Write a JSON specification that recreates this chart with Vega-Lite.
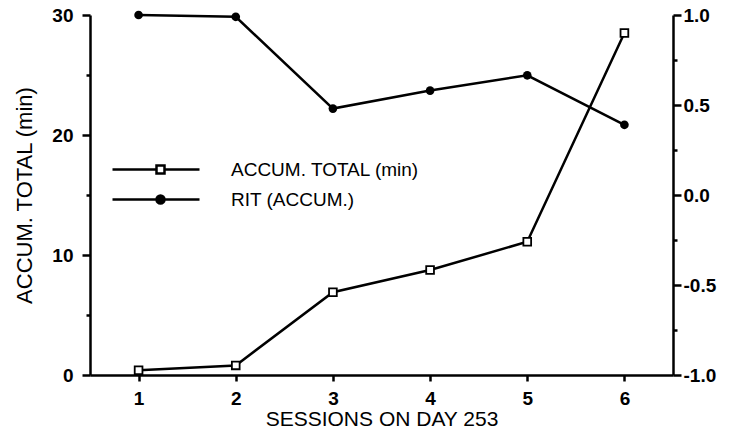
{
  "$schema": "https://vega.github.io/schema/vega-lite/v6.json",
  "width": 583,
  "height": 360,
  "autosize": {"type": "none"},
  "padding": {"left": 90, "top": 15, "right": 56, "bottom": 66},
  "background": "white",
  "config": {
    "view": {"stroke": null},
    "font": "Liberation Sans",
    "axis": {
      "domainColor": "black",
      "tickColor": "black",
      "labelColor": "black",
      "titleColor": "black",
      "domainWidth": 2.5,
      "tickWidth": 2.5,
      "grid": false,
      "labelFont": "Liberation Sans",
      "titleFont": "Liberation Sans",
      "labelFontWeight": "bold",
      "titleFontWeight": "normal"
    },
    "legend": {
      "orient": "none",
      "padding": 0,
      "labelFont": "Liberation Sans",
      "labelFontSize": 19,
      "labelColor": "black",
      "labelLimit": 0,
      "labelOffset": 61,
      "symbolSize": 100,
      "symbolStrokeWidth": 2.5,
      "symbolStrokeColor": "black"
    }
  },
  "data": {
    "values": [
      {"session": 1, "series": "ACCUM. TOTAL (min)", "value": 0.4},
      {"session": 2, "series": "ACCUM. TOTAL (min)", "value": 0.8},
      {"session": 3, "series": "ACCUM. TOTAL (min)", "value": 6.9},
      {"session": 4, "series": "ACCUM. TOTAL (min)", "value": 8.75},
      {"session": 5, "series": "ACCUM. TOTAL (min)", "value": 11.1},
      {"session": 6, "series": "ACCUM. TOTAL (min)", "value": 28.5},
      {"session": 1, "series": "RIT (ACCUM.)", "value": 1.0},
      {"session": 2, "series": "RIT (ACCUM.)", "value": 0.99},
      {"session": 3, "series": "RIT (ACCUM.)", "value": 0.48},
      {"session": 4, "series": "RIT (ACCUM.)", "value": 0.58},
      {"session": 5, "series": "RIT (ACCUM.)", "value": 0.665},
      {"session": 6, "series": "RIT (ACCUM.)", "value": 0.39}
    ]
  },
  "layer": [
    {
      "transform": [{"filter": "datum.series === 'ACCUM. TOTAL (min)'"}],
      "encoding": {
        "x": {
          "field": "session",
          "type": "quantitative",
          "scale": {"domain": [0.5, 6.5], "nice": false, "zero": false},
          "axis": {
            "orient": "bottom",
            "values": [1, 2, 3, 4, 5, 6],
            "format": "d",
            "title": "SESSIONS ON DAY 253",
            "tickSize": 6,
            "labelPadding": 8,
            "labelFontSize": 19,
            "titleFontSize": 21,
            "titlePadding": 0
          }
        },
        "y": {
          "field": "value",
          "type": "quantitative",
          "scale": {"domain": [0, 30], "nice": false},
          "axis": {
            "orient": "left",
            "values": [0, 5, 10, 15, 20, 25, 30],
            "labelExpr": "datum.value % 10 === 0 ? datum.label : ''",
            "tickSize": {"condition": {"test": "datum.value % 10 === 0", "value": 8}, "value": 4},
            "labelPadding": 9,
            "labelFontSize": 19,
            "title": "ACCUM. TOTAL (min)",
            "titleFontSize": 22,
            "titlePadding": 15
          }
        }
      },
      "layer": [
        {
          "mark": {"type": "line", "color": "black", "strokeWidth": 2.5},
          "encoding": {
            "opacity": {
              "field": "series",
              "type": "ordinal",
              "scale": {"range": [1, 1]},
              "legend": {
                "title": null,
                "legendX": 61,
                "legendY": 145,
                "symbolType": "M-9.6,0H-0.8M0.8,0H7.8M-0.8,-0.8H0.8V0.8H-0.8Z",
                "symbolFillColor": "white"
              }
            }
          }
        },
        {"mark": {"type": "point", "shape": "square", "filled": true, "fill": "white", "stroke": "black", "strokeWidth": 1.8, "size": 60, "opacity": 1}}
      ]
    },
    {
      "transform": [{"filter": "datum.series === 'RIT (ACCUM.)'"}],
      "encoding": {
        "x": {"field": "session", "type": "quantitative"},
        "y": {
          "field": "value",
          "type": "quantitative",
          "scale": {"domain": [-1, 1], "nice": false, "zero": false},
          "axis": {
            "orient": "right",
            "values": [-1, -0.75, -0.5, -0.25, 0, 0.25, 0.5, 0.75, 1],
            "format": ".1f",
            "labelExpr": "datum.value % 0.5 === 0 ? replace(datum.label, '−', '-') : ''",
            "tickSize": {"condition": {"test": "datum.value % 0.5 === 0", "value": 8}, "value": 4},
            "labelPadding": 2,
            "labelFontSize": 19,
            "title": null
          }
        }
      },
      "layer": [
        {
          "mark": {"type": "line", "color": "black", "strokeWidth": 2.5},
          "encoding": {
            "opacity": {
              "field": "series",
              "type": "ordinal",
              "scale": {"range": [1, 1]},
              "legend": {
                "title": null,
                "legendX": 61,
                "legendY": 175,
                "symbolType": "M-9.6,0H7.8M-0.8,0A0.8,0.8,0,1,1,0.8,0A0.8,0.8,0,1,1,-0.8,0ZM-0.4,0A0.4,0.4,0,1,1,0.4,0A0.4,0.4,0,1,1,-0.4,0ZM-0.08,0A0.08,0.08,0,1,1,0.08,0A0.08,0.08,0,1,1,-0.08,0Z",
                "symbolFillColor": "black"
              }
            }
          }
        },
        {"mark": {"type": "point", "filled": true, "color": "black", "size": 75, "opacity": 1}}
      ]
    }
  ],
  "resolve": {
    "scale": {"y": "independent", "opacity": "independent"},
    "legend": {"opacity": "independent"}
  }
}
